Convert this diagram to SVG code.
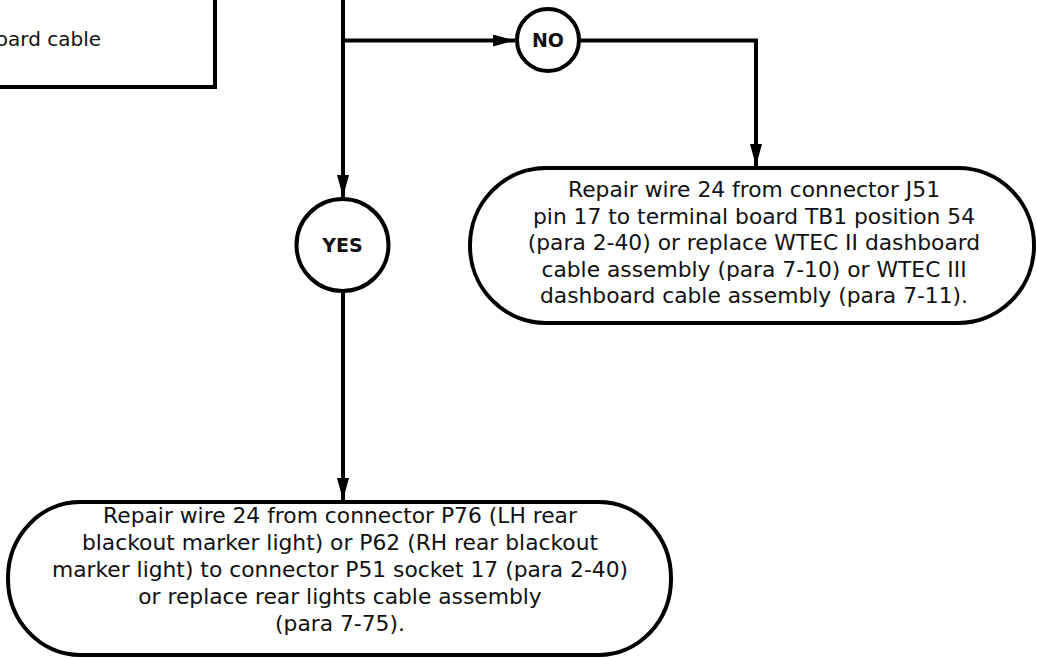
<svg xmlns="http://www.w3.org/2000/svg" width="1037" height="658" viewBox="0 0 1037 658">
<style>
.box{fill:#fff;stroke:#000;stroke-width:4}
.ln{fill:none;stroke:#000;stroke-width:4}
.t{font-family:"DejaVu Sans",sans-serif;font-size:21.8px;fill:#111;text-anchor:middle}
.lbl{font-family:"DejaVu Sans",sans-serif;font-size:19px;font-weight:bold;fill:#111;text-anchor:middle}
</style>
<defs>
<marker id="ah" markerWidth="22" markerHeight="12" refX="22" refY="6" orient="auto" markerUnits="userSpaceOnUse">
<path d="M0,0 L22,6 L0,12 Z" fill="#000"/>
</marker>
</defs>
<g id="node-prev">
<rect class="box" x="-20" y="-20" width="235" height="107"/>
<text class="t" x="101" y="46" style="text-anchor:end;font-size:20px">board cable</text>
</g>
<g id="connectors">
<path class="ln" d="M343,0 L343,197" marker-end="url(#ah)"/>
<path class="ln" d="M343,40.5 L515,40.5" marker-end="url(#ah)"/>
<path class="ln" d="M580,40.5 L756,40.5 L756,166" marker-end="url(#ah)"/>
<path class="ln" d="M343,293 L343,500" marker-end="url(#ah)"/>
</g>
<g id="node-no">
<circle class="box" cx="548" cy="40" r="31"/>
<text class="lbl" x="548" y="47">NO</text>
</g>
<g id="node-yes">
<circle class="box" cx="342.5" cy="245" r="46"/>
<text class="lbl" x="342.5" y="252">YES</text>
</g>
<g id="node-repair-j51">
<rect class="box" x="470" y="168" width="564" height="155" rx="76" ry="77"/>
<text class="t" x="754" y="197">Repair wire 24 from connector J51</text>
<text class="t" x="754" y="224">pin 17 to terminal board TB1 position 54</text>
<text class="t" x="754" y="250">(para 2-40) or replace WTEC II dashboard</text>
<text class="t" x="754" y="277">cable assembly (para 7-10) or WTEC III</text>
<text class="t" x="754" y="303">dashboard cable assembly (para 7-11).</text>
</g>
<g id="node-repair-p76">
<rect class="box" x="8" y="502" width="663" height="153" rx="72" ry="76"/>
<text class="t" x="340" y="523">Repair wire 24 from connector P76 (LH rear</text>
<text class="t" x="340" y="550">blackout marker light) or P62 (RH rear blackout</text>
<text class="t" x="340" y="577">marker light) to connector P51 socket 17 (para 2-40)</text>
<text class="t" x="340" y="604">or replace rear lights cable assembly</text>
<text class="t" x="340" y="631">(para 7-75).</text>
</g>
</svg>
